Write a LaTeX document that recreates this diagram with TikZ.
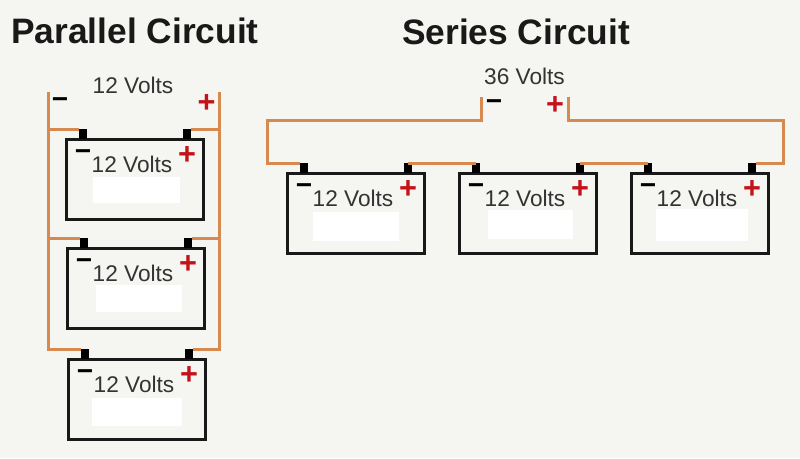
\documentclass[tikz,border=0pt]{standalone}
\usepackage{fontspec}
\setmainfont{Liberation Sans}
\definecolor{paper}{HTML}{F5F6F2}
\definecolor{wirecol}{HTML}{D68A50}
\definecolor{inkcol}{HTML}{333333}
\definecolor{redcol}{HTML}{C4121A}
\tikzset{
    battbox/.style={draw=black!90, line width=2.25pt, fill=paper, rectangle, inner sep=0pt, outer sep=0pt,
        minimum width=137*0.75pt, minimum height=80*0.75pt, anchor=north west},
    terminal/.style={fill=black, rectangle, inner sep=0pt, outer sep=0pt,
        minimum width=5.5pt, minimum height=10*0.75pt, anchor=south},
    patch/.style={fill=white, rectangle, inner sep=0pt, outer sep=0pt, anchor=north west},
    wire/.style={draw=wirecol, line width=2.25pt},
    volts/.style={text=inkcol, inner sep=0pt, font=\fontsize{17}{20}\selectfont},
    headline/.style={text=black!90, inner sep=0pt, font=\fontsize{26.5}{30}\selectfont\bfseries},
    negsign/.style={text=black, inner sep=0pt, font=\fontsize{21}{24}\selectfont\bfseries},
    possign/.style={text=redcol, inner sep=0pt, font=\fontsize{23}{25}\selectfont\bfseries},
}

\begin{document}
\begin{tikzpicture}[x=0.75pt, y=-0.75pt]
    % Background, same size as the reference
    \fill[paper] (0,0) rectangle (800,458);
    \useasboundingbox (0,0) rectangle (800,458);

    % Titles
    \node[headline] (partitle) at (135,31) {Parallel Circuit};
    \node[headline] (sertitle) at (516,32) {Series Circuit};

    % Batteries: name / left / top / white patch x, y, w, h
    \foreach \bname/\bx/\by/\px/\py/\pw/\ph in {
        pa/66/139/93/177/87/26,
        pb/67/248/96/285/86/27,
        pc/68/359/92/398/90/28,
        sa/287/173/313/212/86/29,
        sb/459/173/488/210/85/29,
        sc/631/173/656/209/92/32}
    {
        \node[battbox] (\bname) at (\bx,\by) {};
        \node[patch, minimum width=\pw*0.75pt, minimum height=\ph*0.75pt] (\bname-patch) at (\px,\py) {};
        \node[terminal] (\bname-neg) at (\bx+17,\by) {};
        \node[terminal] (\bname-pos) at (\bx+121,\by) {};
        \node[volts] (\bname-volts) at (\bx+66,\by+25) {12 Volts};
        \node[negsign] (\bname-minus) at (\bx+17,\by+16) {−};
        \node[possign] (\bname-plus) at (\bx+121,\by+16.5) {+};
    }

    % Parallel side
    \node[volts] (parvolts) at (133,85.5) {12 Volts};
    \node[negsign] (parminus) at (60,103) {−};
    \node[possign] (parplus) at (206.5,103.5) {+};
    \coordinate (parnegend) at (48,92);
    \coordinate (parposend) at (219.5,92);
    \draw[wire] (parnegend) |- (pc-neg.north west);
    \draw[wire] (parposend) |- (pc-pos.north east);
    \draw[wire] (parnegend |- pa-neg.north) -- (pa-neg.north west);
    \draw[wire] (parnegend |- pb-neg.north) -- (pb-neg.north west);
    \draw[wire] (parposend |- pa-pos.north) -- (pa-pos.north east);
    \draw[wire] (parposend |- pb-pos.north) -- (pb-pos.north east);

    % Series side
    \node[volts] (servolts) at (524.5,76) {36 Volts};
    \node[negsign] (serminus) at (494,105) {−};
    \node[possign] (serplus) at (555,105.5) {+};
    \coordinate (sernegend) at (481,97);
    \coordinate (serposend) at (568.5,97);
    \coordinate (serleft) at (267,120);
    \coordinate (serright) at (783,120);
    \draw[wire] (sa-neg.north west) -| (serleft) -| (sernegend);
    \draw[wire] (sc-pos.north east) -| (serright) -| (serposend);
    \draw[wire] (sa-pos.north) -- (sb-neg.north);
    \draw[wire] (sb-pos.north) -- (sc-neg.north);
\end{tikzpicture}
\end{document}
